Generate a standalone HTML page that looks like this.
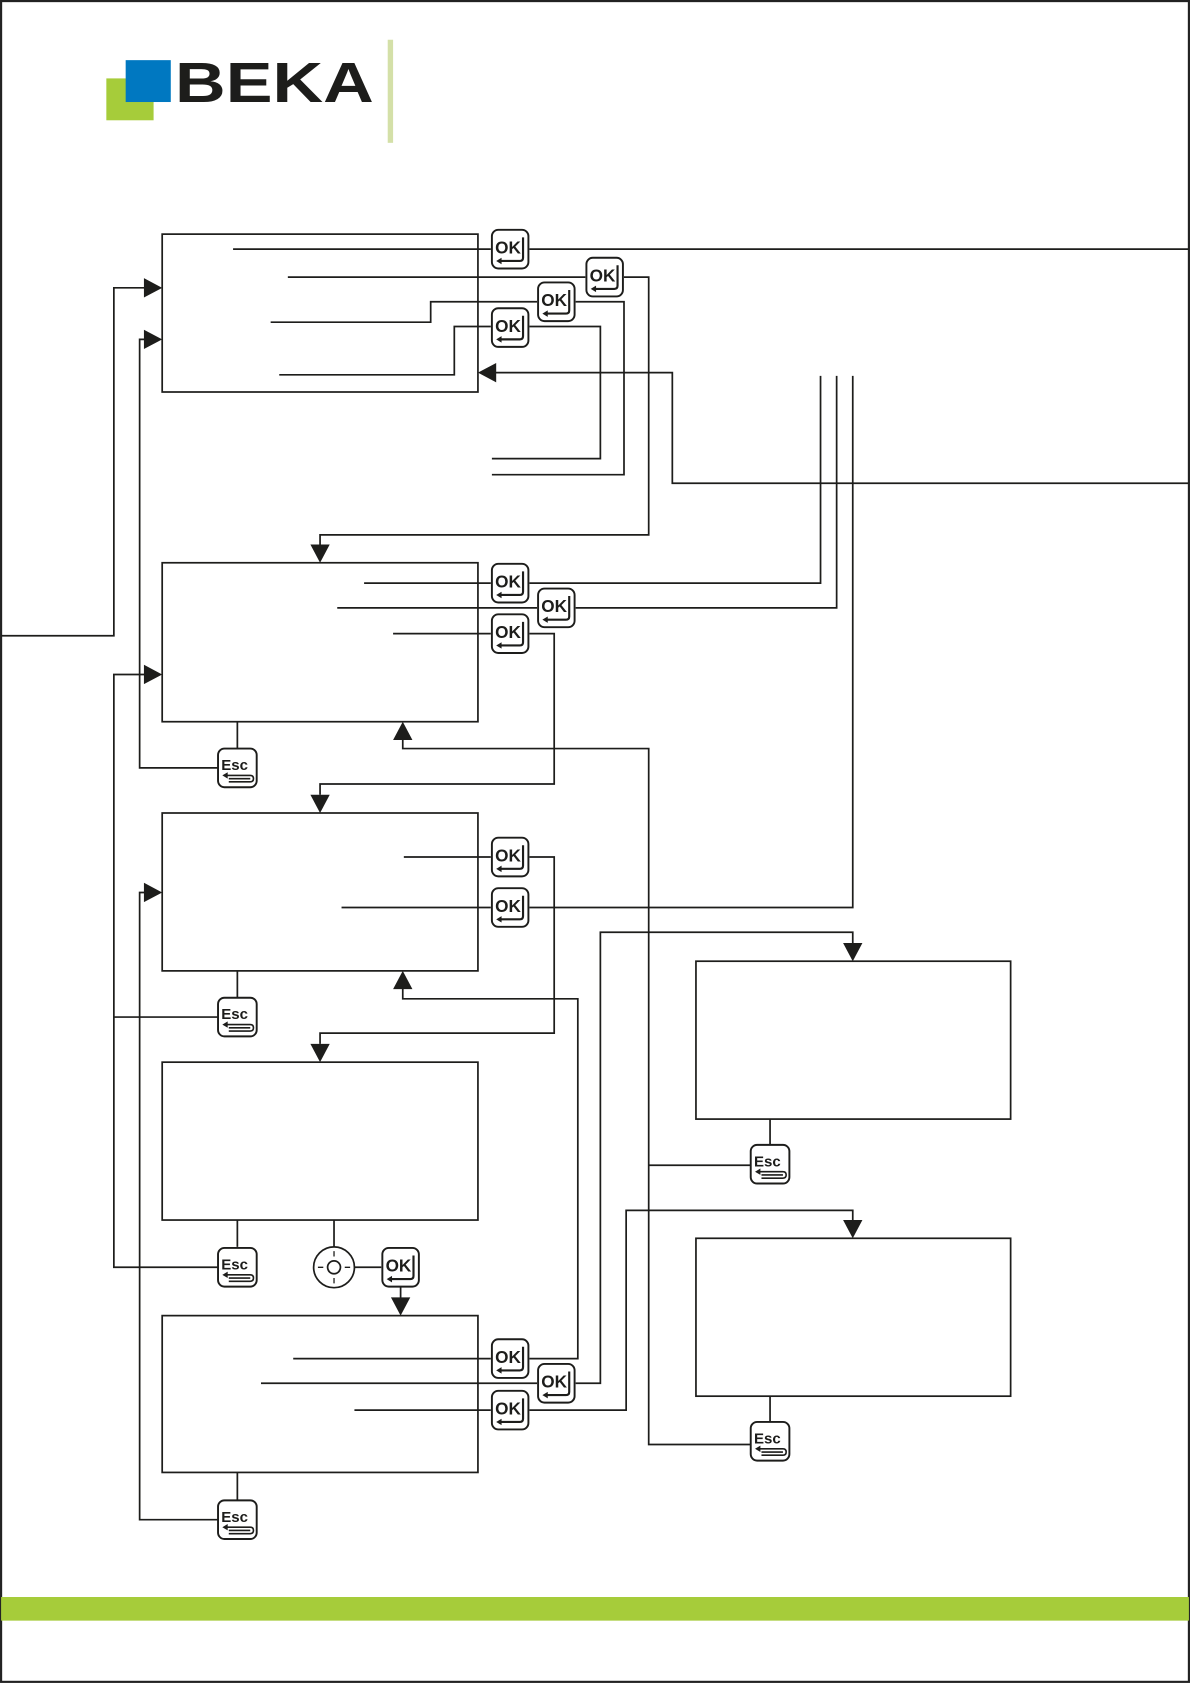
<!DOCTYPE html>
<html><head><meta charset="utf-8"><style>html,body{margin:0;padding:0;background:#fff}svg{display:block}</style></head>
<body>
<svg width="1190" height="1684" viewBox="0 0 1108 1568" xmlns="http://www.w3.org/2000/svg" font-family="Liberation Sans, sans-serif">
<rect x="1" y="1" width="1106" height="1565" fill="#fff" stroke="#222" stroke-width="2"/>
<!-- logo -->
<rect x="99" y="73" width="44" height="39" fill="#a6cc3a"/>
<rect x="117" y="56" width="42" height="39" fill="#0078c1"/>
<text x="163" y="95" font-size="53" font-weight="bold" fill="#1d1d1b" textLength="185" lengthAdjust="spacingAndGlyphs">BEKA</text>
<rect x="361" y="37" width="5" height="96" fill="#d4e0a8"/>
<rect x="1" y="1487" width="1106" height="22" fill="#a6cc3a"/>
<g fill="none" stroke="#1d1d1b" stroke-width="1.6">
<rect x="151" y="218" width="294" height="147"/>
<rect x="151" y="524" width="294" height="148"/>
<rect x="151" y="757" width="294" height="147"/>
<rect x="151" y="989" width="294" height="147"/>
<rect x="151" y="1225" width="294" height="146"/>
<rect x="648" y="895" width="293" height="147"/>
<rect x="648" y="1153" width="293" height="147"/>
<path d="M217 232H457M493 232H1107"/>
<path d="M268 258H545M581 258H604V498H298V508"/>
<path d="M252 300H401V281H500M536 281H581V442H458"/>
<path d="M260 349H423V304H457M493 304H559V427H458"/>
<path d="M460 347H626V450H1107"/>
<path d="M140 268H106V592H1"/>
<path d="M140 316H130V715H203"/>
<path d="M764 350V543H493M779 350V566H536M794 350V845H493"/>
<path d="M339 543H457M314 566H500M366 590H457M493 590H516V730H298V740"/>
<path d="M140 628H106V1180H203M106 947H203"/>
<path d="M375 688V697H604V1345H699M604 1085H699"/>
<path d="M221 672V697M221 904V929M221 1136V1161M221 1371V1397M717 1042V1066M717 1300V1324"/>
<path d="M376 798H457M493 798H516V962H298V972"/>
<path d="M318 845H457"/>
<path d="M140 831H130V1415H203"/>
<path d="M375 920V930H538V1265H493"/>
<path d="M536 1288H559V868H794V878"/>
<path d="M493 1313H583V1127H794V1136"/>
<path d="M311 1136V1162M329 1180H355M373 1198V1210"/>
<path d="M273 1265H457M243 1288H500M330 1313H457"/>
</g>
<g fill="#1d1d1b">
<path d="M134 259L151 268L134 277Z"/><path d="M134 307L151 316L134 325Z"/><path d="M134 619L151 628L134 637Z"/><path d="M134 822L151 831L134 840Z"/>
<path d="M462 338L445 347L462 356Z"/>
<path d="M289 507L298 524L307 507Z"/><path d="M289 740L298 757L307 740Z"/><path d="M289 972L298 989L307 972Z"/>
<path d="M785 878L794 895L803 878Z"/><path d="M785 1136L794 1153L803 1136Z"/><path d="M364 1208L373 1225L382 1208Z"/>
<path d="M366 689L375 672L384 689Z"/><path d="M366 921L375 904L384 921Z"/>
</g>
<!-- OK buttons -->
<g font-weight="bold" font-size="16" fill="#1d1d1b">
<g transform="translate(475,232)"><rect x="-17" y="-18" width="34" height="36" rx="6" fill="#fff" stroke="#1d1d1b" stroke-width="1.8"/><text x="-14" y="4">OK</text><path d="M12 -11V8Q12 11 9 11H-10" fill="none" stroke="#1d1d1b" stroke-width="2"/><path d="M-13 11L-8 8V14Z"/></g>
<g transform="translate(563,258)"><rect x="-17" y="-18" width="34" height="36" rx="6" fill="#fff" stroke="#1d1d1b" stroke-width="1.8"/><text x="-14" y="4">OK</text><path d="M12 -11V8Q12 11 9 11H-10" fill="none" stroke="#1d1d1b" stroke-width="2"/><path d="M-13 11L-8 8V14Z"/></g>
<g transform="translate(518,281)"><rect x="-17" y="-18" width="34" height="36" rx="6" fill="#fff" stroke="#1d1d1b" stroke-width="1.8"/><text x="-14" y="4">OK</text><path d="M12 -11V8Q12 11 9 11H-10" fill="none" stroke="#1d1d1b" stroke-width="2"/><path d="M-13 11L-8 8V14Z"/></g>
<g transform="translate(475,305)"><rect x="-17" y="-18" width="34" height="36" rx="6" fill="#fff" stroke="#1d1d1b" stroke-width="1.8"/><text x="-14" y="4">OK</text><path d="M12 -11V8Q12 11 9 11H-10" fill="none" stroke="#1d1d1b" stroke-width="2"/><path d="M-13 11L-8 8V14Z"/></g>
<g transform="translate(475,543)"><rect x="-17" y="-18" width="34" height="36" rx="6" fill="#fff" stroke="#1d1d1b" stroke-width="1.8"/><text x="-14" y="4">OK</text><path d="M12 -11V8Q12 11 9 11H-10" fill="none" stroke="#1d1d1b" stroke-width="2"/><path d="M-13 11L-8 8V14Z"/></g>
<g transform="translate(518,566)"><rect x="-17" y="-18" width="34" height="36" rx="6" fill="#fff" stroke="#1d1d1b" stroke-width="1.8"/><text x="-14" y="4">OK</text><path d="M12 -11V8Q12 11 9 11H-10" fill="none" stroke="#1d1d1b" stroke-width="2"/><path d="M-13 11L-8 8V14Z"/></g>
<g transform="translate(475,590)"><rect x="-17" y="-18" width="34" height="36" rx="6" fill="#fff" stroke="#1d1d1b" stroke-width="1.8"/><text x="-14" y="4">OK</text><path d="M12 -11V8Q12 11 9 11H-10" fill="none" stroke="#1d1d1b" stroke-width="2"/><path d="M-13 11L-8 8V14Z"/></g>
<g transform="translate(475,798)"><rect x="-17" y="-18" width="34" height="36" rx="6" fill="#fff" stroke="#1d1d1b" stroke-width="1.8"/><text x="-14" y="4">OK</text><path d="M12 -11V8Q12 11 9 11H-10" fill="none" stroke="#1d1d1b" stroke-width="2"/><path d="M-13 11L-8 8V14Z"/></g>
<g transform="translate(475,845)"><rect x="-17" y="-18" width="34" height="36" rx="6" fill="#fff" stroke="#1d1d1b" stroke-width="1.8"/><text x="-14" y="4">OK</text><path d="M12 -11V8Q12 11 9 11H-10" fill="none" stroke="#1d1d1b" stroke-width="2"/><path d="M-13 11L-8 8V14Z"/></g>
<g transform="translate(373,1180)"><rect x="-17" y="-18" width="34" height="36" rx="6" fill="#fff" stroke="#1d1d1b" stroke-width="1.8"/><text x="-14" y="4">OK</text><path d="M12 -11V8Q12 11 9 11H-10" fill="none" stroke="#1d1d1b" stroke-width="2"/><path d="M-13 11L-8 8V14Z"/></g>
<g transform="translate(475,1265)"><rect x="-17" y="-18" width="34" height="36" rx="6" fill="#fff" stroke="#1d1d1b" stroke-width="1.8"/><text x="-14" y="4">OK</text><path d="M12 -11V8Q12 11 9 11H-10" fill="none" stroke="#1d1d1b" stroke-width="2"/><path d="M-13 11L-8 8V14Z"/></g>
<g transform="translate(518,1288)"><rect x="-17" y="-18" width="34" height="36" rx="6" fill="#fff" stroke="#1d1d1b" stroke-width="1.8"/><text x="-14" y="4">OK</text><path d="M12 -11V8Q12 11 9 11H-10" fill="none" stroke="#1d1d1b" stroke-width="2"/><path d="M-13 11L-8 8V14Z"/></g>
<g transform="translate(475,1313)"><rect x="-17" y="-18" width="34" height="36" rx="6" fill="#fff" stroke="#1d1d1b" stroke-width="1.8"/><text x="-14" y="4">OK</text><path d="M12 -11V8Q12 11 9 11H-10" fill="none" stroke="#1d1d1b" stroke-width="2"/><path d="M-13 11L-8 8V14Z"/></g>
</g>
<!-- Esc buttons -->
<g font-weight="bold" font-size="14" fill="#1d1d1b">
<g transform="translate(221,715)"><rect x="-18" y="-18" width="36" height="36" rx="6" fill="#fff" stroke="#1d1d1b" stroke-width="1.8"/><text x="-15" y="2">Esc</text><path d="M-10 7H12Q15 7 15 10Q15 13 12 13H-8M-8 10H12" fill="none" stroke="#1d1d1b" stroke-width="1.5"/><path d="M-14 7L-9 4V10Z"/></g>
<g transform="translate(221,947)"><rect x="-18" y="-18" width="36" height="36" rx="6" fill="#fff" stroke="#1d1d1b" stroke-width="1.8"/><text x="-15" y="2">Esc</text><path d="M-10 7H12Q15 7 15 10Q15 13 12 13H-8M-8 10H12" fill="none" stroke="#1d1d1b" stroke-width="1.5"/><path d="M-14 7L-9 4V10Z"/></g>
<g transform="translate(221,1180)"><rect x="-18" y="-18" width="36" height="36" rx="6" fill="#fff" stroke="#1d1d1b" stroke-width="1.8"/><text x="-15" y="2">Esc</text><path d="M-10 7H12Q15 7 15 10Q15 13 12 13H-8M-8 10H12" fill="none" stroke="#1d1d1b" stroke-width="1.5"/><path d="M-14 7L-9 4V10Z"/></g>
<g transform="translate(221,1415)"><rect x="-18" y="-18" width="36" height="36" rx="6" fill="#fff" stroke="#1d1d1b" stroke-width="1.8"/><text x="-15" y="2">Esc</text><path d="M-10 7H12Q15 7 15 10Q15 13 12 13H-8M-8 10H12" fill="none" stroke="#1d1d1b" stroke-width="1.5"/><path d="M-14 7L-9 4V10Z"/></g>
<g transform="translate(717,1084)"><rect x="-18" y="-18" width="36" height="36" rx="6" fill="#fff" stroke="#1d1d1b" stroke-width="1.8"/><text x="-15" y="2">Esc</text><path d="M-10 7H12Q15 7 15 10Q15 13 12 13H-8M-8 10H12" fill="none" stroke="#1d1d1b" stroke-width="1.5"/><path d="M-14 7L-9 4V10Z"/></g>
<g transform="translate(717,1342)"><rect x="-18" y="-18" width="36" height="36" rx="6" fill="#fff" stroke="#1d1d1b" stroke-width="1.8"/><text x="-15" y="2">Esc</text><path d="M-10 7H12Q15 7 15 10Q15 13 12 13H-8M-8 10H12" fill="none" stroke="#1d1d1b" stroke-width="1.5"/><path d="M-14 7L-9 4V10Z"/></g>
</g>
<!-- d-pad -->
<g transform="translate(311,1180)" stroke="#1d1d1b" stroke-width="1.6" fill="#fff">
<circle r="19"/><circle r="6"/>
<path d="M0 -15V-10M0 10V15M-15 0H-10M10 0H15" stroke-width="1.2"/>
</g>
</svg>
</body></html>
